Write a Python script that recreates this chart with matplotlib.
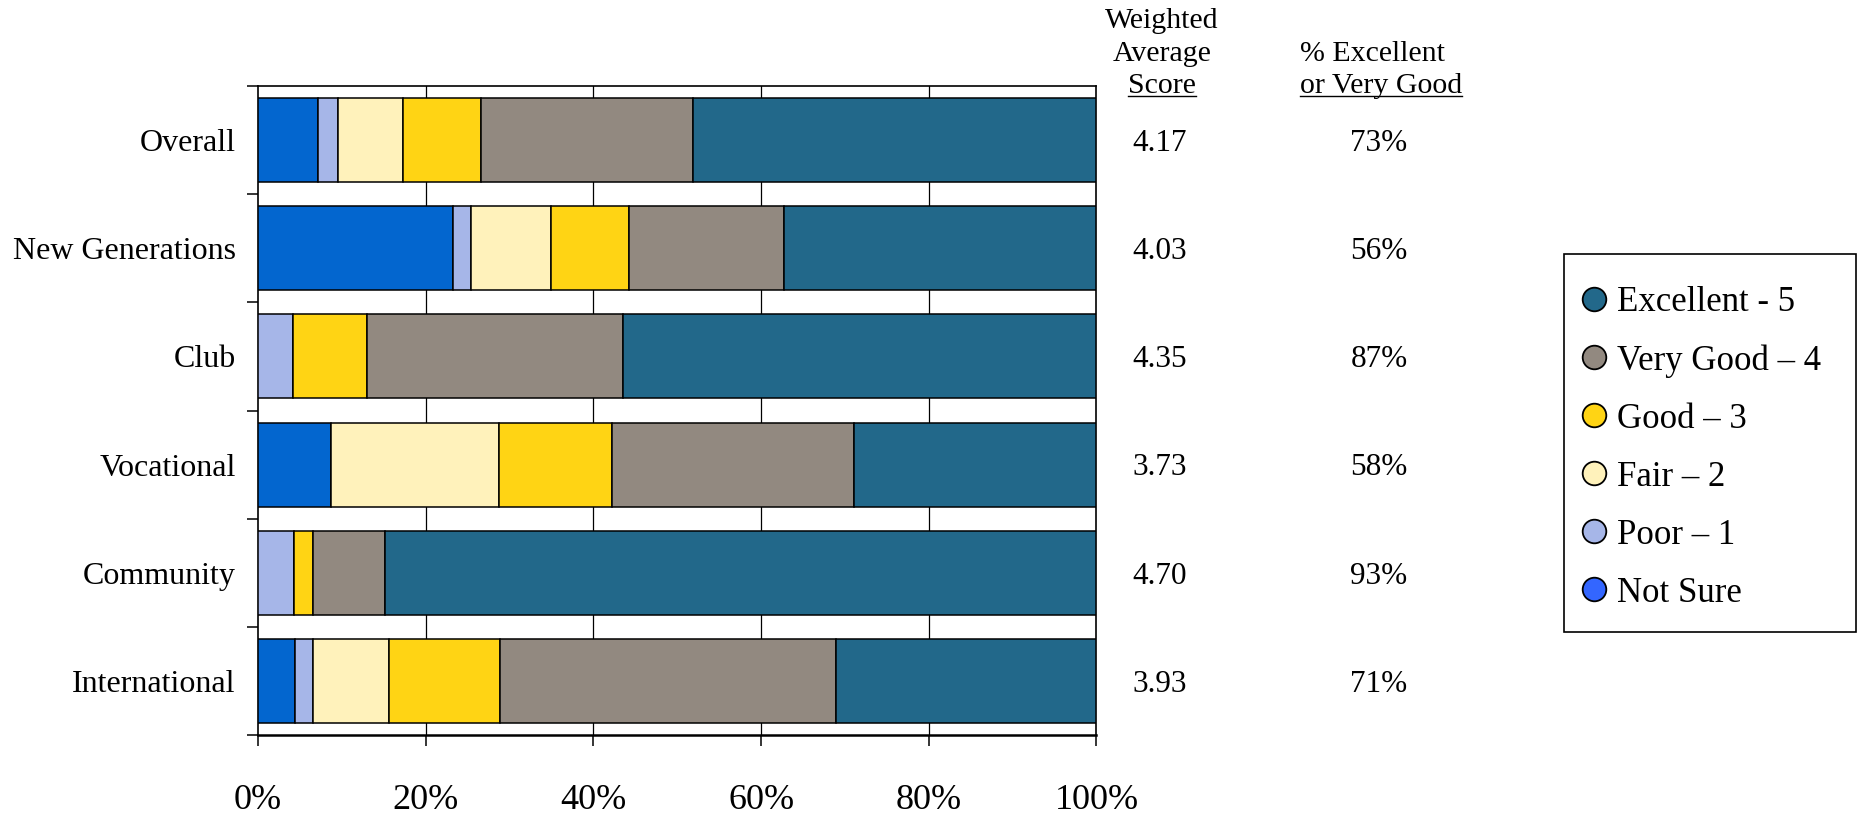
import matplotlib
matplotlib.use("Agg")
import matplotlib.pyplot as plt
import numpy as np
from matplotlib.lines import Line2D
from matplotlib.patches import Rectangle
from matplotlib.transforms import blended_transform_factory

plt.rcParams['font.family'] = ['Liberation Serif', 'DejaVu Serif']

# survey results, percent of respondents per rating
categories = ['Overall', 'New Generations', 'Club', 'Vocational', 'Community', 'International']
not_sure  = [7.1, 23.2, 0.0, 8.7, 0.0, 4.4]
poor      = [2.5, 2.2, 4.2, 0.0, 4.3, 2.2]
fair      = [7.7, 9.6, 0.0, 20.1, 0.0, 9.0]
good      = [9.3, 9.2, 8.8, 13.4, 2.2, 13.3]
very_good = [25.3, 18.5, 30.5, 28.9, 8.6, 40.0]
excellent = [48.1, 37.3, 56.5, 28.9, 84.9, 31.1]

weighted_avg = ['4.17', '4.03', '4.35', '3.73', '4.70', '3.93']
pct_top_two = ['73%', '56%', '87%', '58%', '93%', '71%']

series = [
    ('Not Sure', not_sure, '#0366CF'),
    ('Poor – 1', poor, '#A6B6E8'),
    ('Fair – 2', fair, '#FFF2BB'),
    ('Good – 3', good, '#FFD414'),
    ('Very Good – 4', very_good, '#928980'),
    ('Excellent - 5', excellent, '#22688A'),
]
legend_colors = {'Not Sure': '#3366FF'}

W, H = 1858, 813
fig = plt.figure(figsize=(W / 100, H / 100), dpi=100)
ax = fig.add_axes([258 / W, 1 - 735 / H, (1096.5 - 258) / W, (735 - 86) / H])

y = np.arange(len(categories))
left = np.zeros(len(categories))
for name, vals, col in series:
    vals = np.array(vals)
    ax.barh(y, vals, left=left, height=0.776, color=col, edgecolor='black',
            linewidth=1.1, zorder=3)
    left += vals

ax.set_xlim(0, 100)
ax.set_ylim(len(categories) - 0.5, -0.5)

# x axis
ax.set_xticks(np.arange(0, 101, 20))
ax.set_xticklabels([f'{v}%' for v in range(0, 101, 20)], fontsize=26)
ax.tick_params(axis='x', direction='out', length=8, width=1.1, pad=27)
for v in range(20, 100, 20):
    ax.axvline(v, color='black', lw=0.9, zorder=1)

# y axis: ticks between categories, labels at centres
ax.set_yticks(np.arange(-0.5, len(categories), 1.0))
ax.set_yticklabels([])
ax.tick_params(axis='y', which='major', direction='out', length=8, width=1.1)
ax.set_yticks(y, minor=True)
ax.set_yticklabels(categories, minor=True, fontsize=23)
ax.tick_params(axis='y', which='minor', length=0, pad=16)

for s in ['left', 'right', 'top']:
    ax.spines[s].set_linewidth(1.2)
ax.spines['bottom'].set_linewidth(1.8)

# side columns, baseline a little below the bar centre
tr = blended_transform_factory(fig.transFigure, ax.transData)
for i in range(len(categories)):
    ax.text(1160 / W, y[i] + 0.10, weighted_avg[i], transform=tr, ha='center',
            va='baseline', fontsize=22.5, clip_on=False)
    ax.text(1379 / W, y[i] + 0.10, pct_top_two[i], transform=tr, ha='center',
            va='baseline', fontsize=22.5, clip_on=False)

hdr = dict(va='baseline', fontsize=21.5)
fig.text(1162 / W, 1 - 28 / H, 'Weighted', ha='center', **hdr)
fig.text(1162 / W, 1 - 61 / H, 'Average', ha='center', **hdr)
score_txt = fig.text(1162 / W, 1 - 93 / H, 'Score', ha='center', **hdr)
fig.text(1300 / W, 1 - 61 / H, '% Excellent', ha='left', **hdr)
vg_txt = fig.text(1300 / W, 1 - 93 / H, 'or Very Good', ha='left', **hdr)

fig.canvas.draw()
for t in (score_txt, vg_txt):
    bb = t.get_window_extent()
    fig.add_artist(Line2D([bb.x0 / W, bb.x1 / W], [1 - 96 / H, 1 - 96 / H],
                          transform=fig.transFigure, color='black', lw=1.0))

# legend
handles = []
for name, vals, col in reversed(series):
    handles.append(Line2D([], [], ls='none', marker='o', markersize=17,
                          markerfacecolor=legend_colors.get(name, col),
                          markeredgecolor='black', markeredgewidth=1.3, label=name))
fig.legend(handles=handles, loc='upper left', bbox_to_anchor=(1577 / W, 1 - 286 / H),
           frameon=False, fontsize=25, borderpad=0, borderaxespad=0,
           handlelength=1.0, handletextpad=0.15, labelspacing=0.72)
fig.add_artist(Rectangle((1564 / W, 1 - 632 / H), (1856 - 1564) / W, (632 - 254) / H,
                         transform=fig.transFigure, fill=False, edgecolor='black', lw=1.2))

fig.savefig('out.png', dpi=100)
